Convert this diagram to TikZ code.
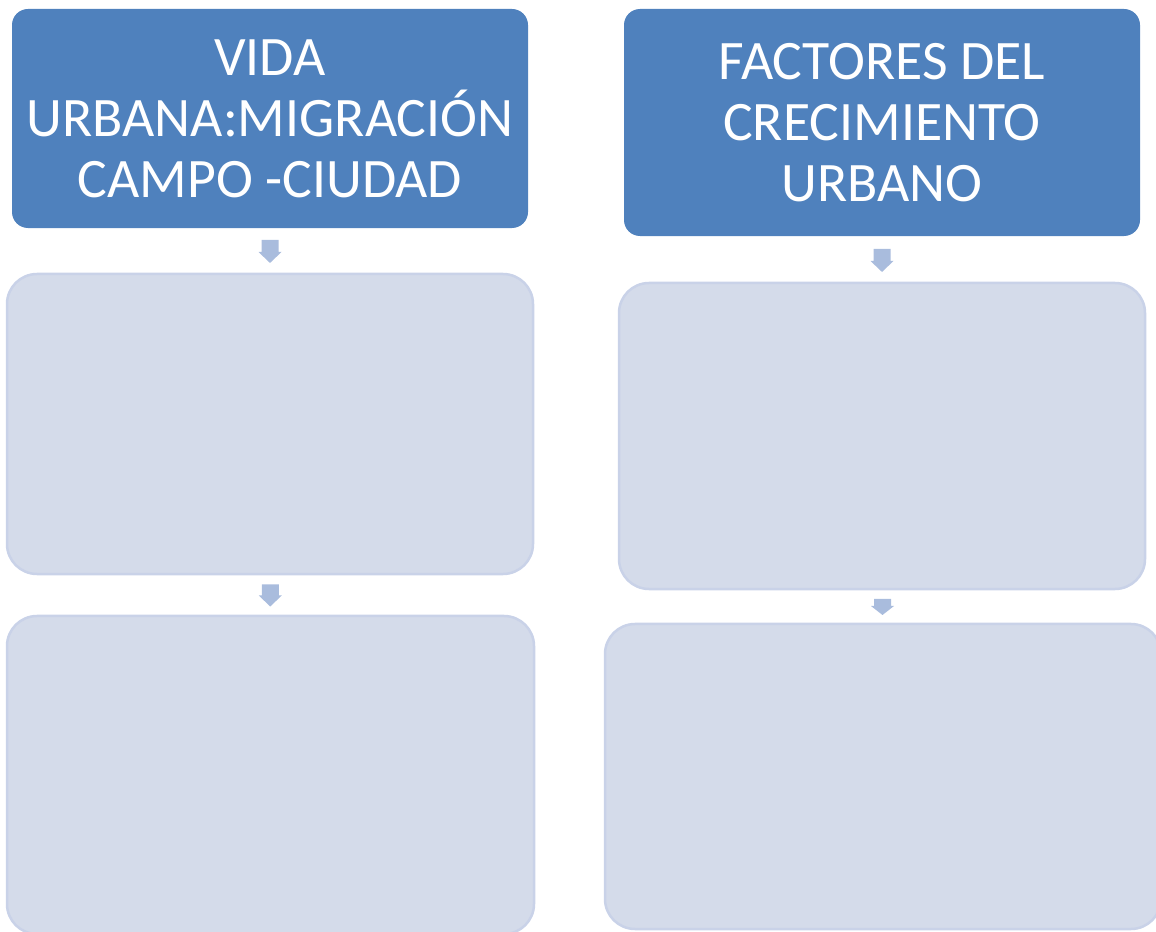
\documentclass[tikz,border=0pt]{standalone}
\usepackage{fontspec}
\setmainfont{Carlito}
\usetikzlibrary{calc}
\definecolor{hdrblue}{HTML}{4F81BD}
\definecolor{boxfill}{HTML}{D4DBEA}
\definecolor{boxline}{HTML}{C9D2E8}
\definecolor{arrowc}{HTML}{A9BCDD}
\tikzset{
  header/.style={draw=none, fill=hdrblue, rounded corners=16bp, inner sep=0pt,
    text=white, align=center, font=\fontsize{55.7bp}{61bp}\selectfont},
  panel/.style={draw=boxline, line width=2.5bp, fill=boxfill, rounded corners=30bp, inner sep=0pt},
  blockarrow/.style={fill=arrowc, draw=none}
}
% #1 = centre coordinate, #2 = shaft length, #3 = head length
\newcommand{\downarrowblock}[3]{%
  \fill[blockarrow] ($(#1)+(-8.5bp,{(#2+#3)/2*1bp})$) -- ++(17bp,0) -- ++(0,{-#2*1bp}) -- ++(3bp,0)
    -- ($(#1)+(0,{-(#2+#3)/2*1bp})$) -- ++(-11.5bp,{#3*1bp}) -- ++(3bp,0) -- cycle;}
\begin{document}
\begin{tikzpicture}
\useasboundingbox (0,0) rectangle (1156bp,932bp);
% y measured from top: y_tikz = 932 - y_img
\node[header, minimum width=516bp, minimum height=219bp] (h1) at (270bp,{(932-118.5)*1bp}) {VIDA\\URBANA:MIGRACIÓN\\CAMPO -CIUDAD};
\node[header, minimum width=516bp, minimum height=227bp] (h2) at (882bp,{(932-122.5)*1bp}) {FACTORES DEL\\CRECIMIENTO\\URBANO};
\node[panel, minimum width=526bp, minimum height=300bp] (b1) at (270bp,{(932-424)*1bp}) {};
\node[panel, minimum width=527bp, minimum height=318bp] (b2) at (270.5bp,{(932-775)*1bp}) {};
\node[panel, minimum width=526bp, minimum height=306bp] (b3) at (882bp,{(932-436)*1bp}) {};
\node[panel, minimum width=556bp, minimum height=305bp] (b4) at (883bp,{(932-776.5)*1bp}) {};
\coordinate (a1) at ($(h1.south)!0.5!(b1.north)+(0,-1bp)$);
\coordinate (a2) at ($(b1.south)!0.5!(b2.north)+(0,-0.5bp)$);
\coordinate (a3) at ($(h2.south)!0.5!(b3.north)+(0,-1.5bp)$);
\coordinate (a4) at ($(b3.south)!0.5!(b4.north)+(0,-0.5bp)$);
\downarrowblock{a1}{12}{11}
\downarrowblock{a2}{11}{11}
\downarrowblock{a3}{12}{11}
\downarrowblock{a4}{7}{9}
\end{tikzpicture}
\end{document}
